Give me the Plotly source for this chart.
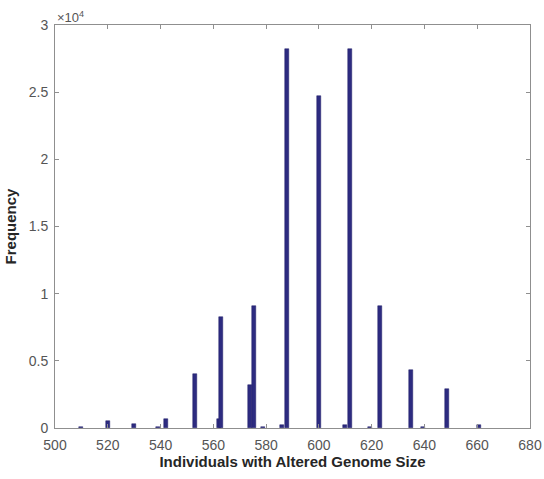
import plotly.graph_objects as go

# Genome size (x) and frequency (y)
genome_size = [510, 520, 530, 539, 542, 553, 562, 563, 574, 575.5, 579, 586, 588,
               600, 610, 611.7, 619.5, 623, 635, 639.5, 648.5, 660.5]
frequency = [60, 500, 330, 80, 700, 4000, 700, 8250, 3200, 9100, 80, 200, 28200,
             24750, 200, 28200, 80, 9100, 4350, 80, 2900, 250]

x_ticks = [500, 520, 540, 560, 580, 600, 620, 640, 660, 680]
y_ticks = [0, 5000, 10000, 15000, 20000, 25000, 30000]
y_tick_text = ["0", "0.5", "1", "1.5", "2", "2.5", "3"]

bar_color = "#2d2b80"
axis_color = "#8f8f8f"
tick_font = dict(family="Liberation Sans, Arial, sans-serif", size=14, color="#555555")
title_font = dict(family="Liberation Sans, Arial, sans-serif", size=15, color="#262626")

fig = go.Figure()
fig.add_trace(go.Bar(
    x=genome_size, y=frequency, width=1.5,
    marker=dict(color=bar_color, line=dict(color="#1f1d66", width=0.5)),
))

fig.update_layout(
    width=544, height=479,
    margin=dict(l=55, r=14, t=25, b=51),
    paper_bgcolor="white", plot_bgcolor="white",
    showlegend=False,
    bargap=0,
    xaxis=dict(
        range=[500, 680], tickvals=x_ticks, ticks="inside", ticklen=4,
        tickcolor=axis_color, showline=True, linecolor=axis_color, linewidth=1,
        mirror="ticks", showgrid=False, zeroline=False, tickfont=tick_font,
        automargin=False, ticklabeloverflow="allow", ticklabelstandoff=4,
        title=dict(text="<b>Individuals with Altered Genome Size</b>",
                   font=title_font, standoff=4),
    ),
    yaxis=dict(
        range=[0, 30000], tickvals=y_ticks, ticktext=y_tick_text, ticks="inside", ticklen=4,
        tickcolor=axis_color, showline=True, linecolor=axis_color, linewidth=1,
        mirror="ticks", showgrid=False, zeroline=False, tickfont=tick_font,
        automargin=False, ticklabelstandoff=3,
        title=dict(text="<b>Frequency</b>", font=title_font, standoff=8),
    ),
)

fig.add_annotation(
    xref="paper", yref="paper", x=0, y=1, xanchor="left", yanchor="bottom",
    text="×10<sup>4</sup>", showarrow=False, yshift=-2,
    font=dict(family="Liberation Sans, Arial, sans-serif", size=13, color="#555555"),
)

fig.write_html("out.html")
